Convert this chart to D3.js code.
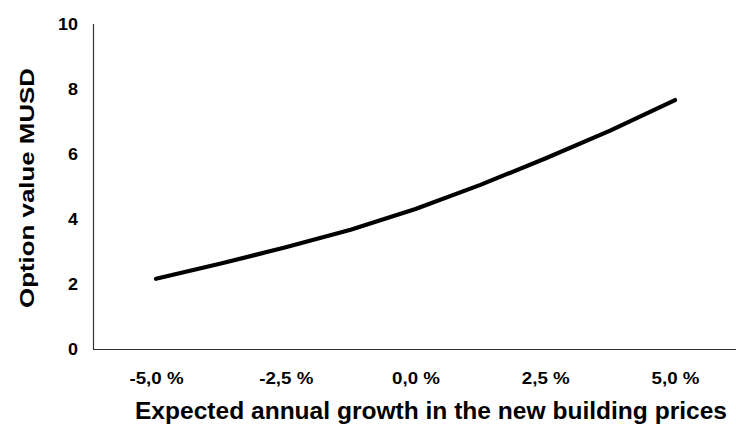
<!DOCTYPE html>
<html><head><meta charset="utf-8">
<script src="https://cdn.jsdelivr.net/npm/d3@7"></script>
<style>body{margin:0;background:#fff}svg{display:block}text{font-family:"Liberation Sans",Arial,sans-serif;font-weight:bold;fill:#000}</style>
</head><body><svg id="c" width="736" height="428"></svg>
<script>
const growth = [-5, -3.75, -2.5, -1.25, 0, 1.25, 2.5, 3.75, 5];
const optionValue = [2.16, 2.63, 3.13, 3.67, 4.31, 5.05, 5.86, 6.72, 7.66];
const xTickValues = [-5, -2.5, 0, 2.5, 5];
const xTickLabels = ["-5,0 %", "-2,5 %", "0,0 %", "2,5 %", "5,0 %"];
const yTickValues = [0, 2, 4, 6, 8, 10];

const svg = d3.select("#c");
const x = d3.scaleLinear().domain([-5, 5]).range([156, 675]);
const y = d3.scaleLinear().domain([0, 10]).range([349, 24]);
const axisLeft = 93, axisRight = 736;

svg.append("line").attr("x1", axisLeft + 0.5).attr("x2", axisLeft + 0.5)
  .attr("y1", y(10)).attr("y2", y(0)).attr("stroke", "#333").attr("stroke-width", 1.2);
svg.append("line").attr("x1", axisLeft).attr("x2", axisRight)
  .attr("y1", y(0) + 0.5).attr("y2", y(0) + 0.5).attr("stroke", "#333").attr("stroke-width", 1.2);

function stretch(sel, f) {
  sel.each(function () {
    const w = this.getComputedTextLength();
    d3.select(this).attr("textLength", w * f).attr("lengthAdjust", "spacingAndGlyphs");
  });
}

const yAxis = d3.axisLeft(y).tickValues(yTickValues).tickSize(0).tickPadding(0).tickFormat(d3.format("d"));
const gy = svg.append("g").attr("transform", `translate(${78},0)`).call(yAxis);
gy.select(".domain").remove();
gy.selectAll("text").style("font-size", "16px").attr("dy", "0.36em").call(stretch, 1.12);

const xAxis = d3.axisBottom(x).tickValues(xTickValues).tickSize(0).tickPadding(0)
  .tickFormat((d, i) => xTickLabels[i]);
const gx = svg.append("g").attr("transform", `translate(0,${378.5})`).call(xAxis);
gx.select(".domain").remove();
gx.selectAll("text").style("font-size", "16px").attr("dy", "0.36em").call(stretch, 1.17);

svg.append("path").datum(growth.map((g, i) => [g, optionValue[i]]))
  .attr("fill", "none").attr("stroke", "#000").attr("stroke-width", 4.2)
  .attr("stroke-linecap", "round").attr("stroke-linejoin", "round")
  .attr("d", d3.line().x(d => x(d[0])).y(d => y(d[1])));

svg.append("text").attr("x", 431).attr("y", 419).attr("text-anchor", "middle")
  .style("font-size", "23px").attr("textLength", 592).attr("lengthAdjust", "spacingAndGlyphs")
  .text("Expected annual growth in the new building prices");
svg.append("text").attr("transform", `translate(33.5,188) rotate(-90)`).attr("text-anchor", "middle")
  .style("font-size", "21px").attr("textLength", 240).attr("lengthAdjust", "spacingAndGlyphs")
  .text("Option value MUSD");
</script></body></html>
